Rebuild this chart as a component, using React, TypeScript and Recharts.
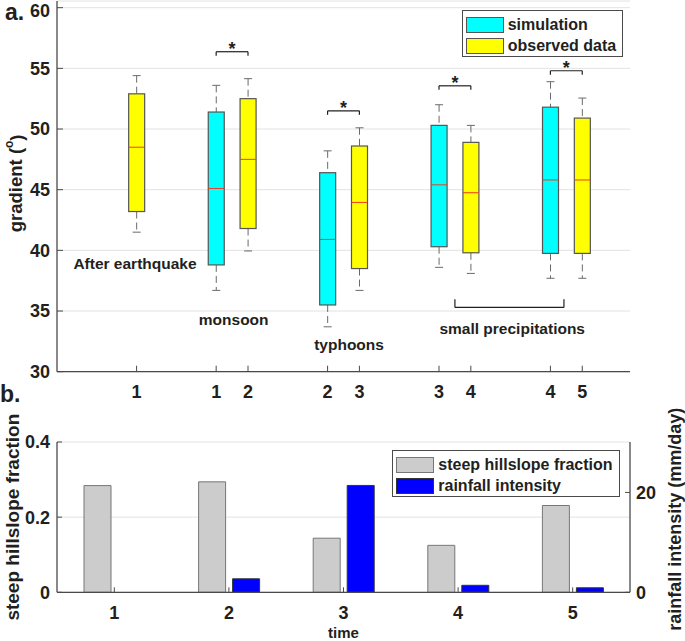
import React from 'react';
import {
  ComposedChart,
  Bar,
  XAxis,
  YAxis,
  CartesianGrid,
  ReferenceLine,
  ReferenceDot,
  Legend,
} from 'recharts';

const FONT = '"Liberation Sans", Arial, Helvetica, sans-serif';
const INK = '#231f20';
const AXIS = '#4a4a4a';
const GRID = '#e2e2e2';

// panel a: gradient boxplots (x = box position on the axis)
const positions = [1, 2, 2.4, 3.4, 3.8, 4.8, 5.2, 6.2, 6.6];
const positionLabels = ['1', '1', '2', '2', '3', '3', '4', '4', '5'];
const boxGroup = ['obs', 'sim', 'obs', 'sim', 'obs', 'sim', 'obs', 'sim', 'obs'];
const whiskerLow = [41.5, 36.7, 39.95, 33.7, 36.7, 38.6, 38.1, 37.7, 37.7];
const quartileLow = [43.2, 38.8, 41.8, 35.5, 38.5, 40.3, 39.8, 39.75, 39.75];
const medians = [48.5, 45.1, 47.5, 40.9, 43.95, 45.4, 44.75, 45.8, 45.8];
const quartileHigh = [52.9, 51.4, 52.5, 46.4, 48.6, 50.3, 48.9, 51.8, 50.9];
const whiskerHigh = [54.4, 53.6, 54.15, 48.2, 50.1, 52.0, 50.3, 53.9, 52.55];
const gradientTicks = [30, 35, 40, 45, 50, 55, 60];

// significance brackets
const sigLeft = [2, 3.4, 4.8, 6.2];
const sigRight = [2.4, 3.8, 5.2, 6.6];
const sigLevel = [56.37, 51.5, 53.56, 54.8];

// event labels
const eventNames = ['After earthquake', 'monsoon', 'typhoons', 'small precipitations'];
const eventX = [0.98, 2.22, 3.67, 5.72];
const eventY = [38.95, 34.29, 32.23, 33.59];

// panel b: hillslope fraction and rainfall
const timeLabels = ['1', '2', '3', '4', '5'];
const steepFraction = [0.284, 0.294, 0.144, 0.125, 0.231];
const rainIntensity = [0, 2.7, 21.4, 1.4, 0.9];

const groupColor: Record<string, string> = { sim: '#00ffff', obs: '#ffff00' };

const boxData = positions.map((x, i) => ({
  x,
  range: [whiskerLow[i], whiskerHigh[i]],
  q1: quartileLow[i],
  med: medians[i],
  q3: quartileHigh[i],
  group: boxGroup[i],
}));

const timeData = timeLabels.map((t, i) => ({
  t,
  frac: steepFraction[i],
  rain: rainIntensity[i],
}));

const tickStyle = { fill: INK, fontSize: 18, fontWeight: 700, fontFamily: FONT };

function BoxShape(props: any) {
  const { x, y, width, height, payload } = props;
  const [lo, hi] = payload.range;
  const top = Math.min(y, y + height);
  const h = Math.abs(height);
  const py = (v: number) => top + (h * (hi - v)) / (hi - lo);
  const cx = x + width / 2;
  const cap = width / 4;
  return (
    <g>
      <line x1={cx} x2={cx} y1={py(hi)} y2={py(payload.q3)} stroke="#6a6a6a" strokeDasharray="7 4" />
      <line x1={cx} x2={cx} y1={py(payload.q1)} y2={py(lo)} stroke="#6a6a6a" strokeDasharray="7 4" />
      <line x1={cx - cap} x2={cx + cap} y1={py(hi)} y2={py(hi)} stroke="#6a6a6a" />
      <line x1={cx - cap} x2={cx + cap} y1={py(lo)} y2={py(lo)} stroke="#6a6a6a" />
      <rect
        x={x}
        y={py(payload.q3)}
        width={width}
        height={py(payload.q1) - py(payload.q3)}
        fill={groupColor[payload.group]}
        stroke="#555"
        strokeWidth={1.2}
      />
      <line x1={x} x2={x + width} y1={py(payload.med)} y2={py(payload.med)} stroke="#f03c1e" strokeWidth={1} />
    </g>
  );
}

function VLabel({ viewBox, cx, dy, size, children }: any) {
  const px = viewBox.x + cx;
  const py = viewBox.y + viewBox.height / 2 + (dy || 0);
  return (
    <text
      x={px}
      y={py}
      transform={`rotate(-90, ${px}, ${py})`}
      textAnchor="middle"
      dominantBaseline="central"
      fill={INK}
      fontSize={size || 18}
      fontWeight={700}
      fontFamily={FONT}
    >
      {children}
    </text>
  );
}

function LegendBox({ items, width }: any) {
  return (
    <div
      style={{
        boxSizing: 'border-box',
        width,
        height: 47,
        border: `1.3px solid ${AXIS}`,
        background: '#fff',
        padding: '3px 0 0 3px',
        fontFamily: FONT,
      }}
    >
      {items.map((it: any) => (
        <div key={it.name} style={{ display: 'flex', alignItems: 'center', height: 21.5 }}>
          <span
            style={{
              display: 'inline-block',
              boxSizing: 'border-box',
              width: 38,
              height: 16,
              background: it.color,
              border: `1px solid ${it.edge}`,
            }}
          />
          <span style={{ marginLeft: 4, fontSize: 16, fontWeight: 700, color: INK, lineHeight: '16px' }}>
            {it.name}
          </span>
        </div>
      ))}
    </div>
  );
}

const panelStyle: React.CSSProperties = {
  position: 'absolute',
  fontFamily: FONT,
  fontWeight: 700,
  fontSize: 23,
  lineHeight: 1.12,
  color: INK,
};

export default function App() {
  return (
    <div style={{ position: 'absolute', left: 0, top: 0, width: 685, height: 641, background: '#fff' }}>
      <div style={{ position: 'absolute', left: 0, top: 400 }}>
        <ComposedChart
          width={685}
          height={241}
          data={timeData}
          barSize={27}
          barGap={7}
          margin={{ top: 42, right: 0, bottom: 0, left: 0 }}
        >
          <CartesianGrid vertical={false} stroke={GRID} yAxisId="frac" />
          <XAxis
            dataKey="t"
            height={48.7}
            tickSize={-5}
            tickMargin={19}
            tick={tickStyle}
            axisLine={{ stroke: AXIS, strokeWidth: 1.3 }}
            tickLine={{ stroke: AXIS }}
            label={{ value: 'time', position: 'insideBottom', offset: 3, fontSize: 15, fontWeight: 700, fill: INK, fontFamily: FONT }}
          />
          <XAxis
            xAxisId="top"
            dataKey="t"
            orientation="top"
            height={0}
            tick={false}
            tickSize={-5}
            axisLine={{ stroke: AXIS, strokeWidth: 1.3 }}
            tickLine={{ stroke: AXIS }}
          />
          <YAxis
            yAxisId="frac"
            domain={[0, 0.4]}
            ticks={[0, 0.2, 0.4]}
            allowDataOverflow
            width={57}
            tickSize={-5}
            tickMargin={12}
            tick={tickStyle}
            axisLine={{ stroke: AXIS, strokeWidth: 1.3 }}
            tickLine={{ stroke: AXIS }}
            label={(p: any) => (
              <VLabel viewBox={p.viewBox} cx={13} size={19}>
                steep hillslope fraction
              </VLabel>
            )}
          />
          <YAxis
            yAxisId="rain"
            orientation="right"
            domain={[0, 30.1]}
            ticks={[0, 20]}
            allowDataOverflow
            width={55}
            tickSize={-5}
            tickMargin={11}
            tick={tickStyle}
            axisLine={{ stroke: AXIS, strokeWidth: 1.3 }}
            tickLine={{ stroke: AXIS }}
            label={(p: any) => (
              <VLabel viewBox={p.viewBox} cx={45} dy={2} size={18}>
                rainfall intensity (mm/day)
              </VLabel>
            )}
          />
          <Bar yAxisId="frac" dataKey="frac" fill="#cccccc" stroke="#777" strokeWidth={1} isAnimationActive={false} />
          <Bar yAxisId="rain" dataKey="rain" fill="#0000ff" stroke="#333" strokeWidth={1} isAnimationActive={false} />
          <Legend
            layout="horizontal"
            verticalAlign="middle"
            align="center"
            wrapperStyle={{ left: 392.3, top: 50, width: 228, height: 47 }}
            content={() => (
              <LegendBox
                width={228}
                items={[
                  { name: 'steep hillslope fraction', color: '#cccccc', edge: '#777' },
                  { name: 'rainfall intensity', color: '#0000ff', edge: '#333' },
                ]}
              />
            )}
          />
        </ComposedChart>
      </div>

      <div style={{ position: 'absolute', left: 0, top: 0 }}>
        <ComposedChart width={685} height={412} data={boxData} margin={{ top: 1, right: 55, bottom: 0, left: 0 }}>
          <CartesianGrid vertical={false} stroke={GRID} />
          <XAxis
            dataKey="x"
            type="number"
            domain={[0, 7.2]}
            ticks={positions}
            interval={0}
            tickFormatter={(_v: number, i: number) => positionLabels[i]}
            height={40.3}
            tickSize={-6}
            tickMargin={20}
            tick={tickStyle}
            axisLine={{ stroke: AXIS, strokeWidth: 1.3 }}
            tickLine={{ stroke: AXIS }}
          />
          <XAxis
            xAxisId="top"
            dataKey="x"
            type="number"
            orientation="top"
            domain={[0, 7.2]}
            ticks={positions}
            interval={0}
            height={0}
            tick={false}
            tickSize={-6}
            axisLine={{ stroke: AXIS, strokeWidth: 1.3 }}
            tickLine={{ stroke: AXIS }}
          />
          <YAxis
            domain={[30, 60.55]}
            ticks={gradientTicks}
            allowDataOverflow
            width={57}
            tickSize={-6}
            tickMargin={13}
            tick={tickStyle}
            axisLine={{ stroke: AXIS, strokeWidth: 1.3 }}
            tickLine={{ stroke: AXIS }}
            label={(p: any) => (
              <VLabel viewBox={p.viewBox} cx={16} dy={-3} size={18.5}>
                gradient (
                <tspan dy={-7} fontSize={12}>
                  o
                </tspan>
                <tspan dy={7}>)</tspan>
              </VLabel>
            )}
          />
          <YAxis
            yAxisId="right"
            orientation="right"
            domain={[30, 60.55]}
            ticks={gradientTicks}
            allowDataOverflow
            width={0}
            tick={false}
            tickSize={-6}
            axisLine={{ stroke: AXIS, strokeWidth: 1.3 }}
            tickLine={{ stroke: AXIS }}
          />
          <Bar dataKey="range" barSize={16} shape={<BoxShape />} isAnimationActive={false} />
          {sigLeft.map((l, i) => (
            <ReferenceLine
              key={`s${i}`}
              segment={[
                { x: l, y: sigLevel[i] },
                { x: sigRight[i], y: sigLevel[i] },
              ]}
              stroke={INK}
              strokeWidth={1.2}
            />
          ))}
          {sigLeft.map((l, i) => (
            <ReferenceLine
              key={`sl${i}`}
              segment={[
                { x: l, y: sigLevel[i] },
                { x: l, y: sigLevel[i] - 0.33 },
              ]}
              stroke={INK}
              strokeWidth={1.2}
            />
          ))}
          {sigRight.map((r, i) => (
            <ReferenceLine
              key={`sr${i}`}
              segment={[
                { x: r, y: sigLevel[i] },
                { x: r, y: sigLevel[i] - 0.33 },
              ]}
              stroke={INK}
              strokeWidth={1.2}
            />
          ))}
          {sigLeft.map((l, i) => (
            <ReferenceDot
              key={`st${i}`}
              x={(l + sigRight[i]) / 2}
              y={sigLevel[i]}
              r={0}
              fill="none"
              stroke="none"
              label={{ value: '*', position: 'top', offset: -3, fontSize: 18, fontWeight: 700, fill: INK, fontFamily: FONT }}
            />
          ))}
          <ReferenceLine segment={[{ x: 5.0, y: 35.3 }, { x: 6.37, y: 35.3 }]} stroke={INK} strokeWidth={1.2} />
          <ReferenceLine segment={[{ x: 5.0, y: 35.3 }, { x: 5.0, y: 35.98 }]} stroke={INK} strokeWidth={1.2} />
          <ReferenceLine segment={[{ x: 6.37, y: 35.3 }, { x: 6.37, y: 35.98 }]} stroke={INK} strokeWidth={1.2} />
          {eventNames.map((name, i) => (
            <ReferenceDot
              key={name}
              x={eventX[i]}
              y={eventY[i]}
              r={0}
              fill="none"
              stroke="none"
              label={{ value: name, position: 'center', fontSize: 15.5, fontWeight: 700, fill: INK, fontFamily: FONT }}
            />
          ))}
          <Legend
            layout="horizontal"
            verticalAlign="middle"
            align="center"
            wrapperStyle={{ left: 461.7, top: 10, width: 161, height: 47 }}
            content={() => (
              <LegendBox
                width={161}
                items={[
                  { name: 'simulation', color: groupColor.sim, edge: '#555' },
                  { name: 'observed data', color: groupColor.obs, edge: '#555' },
                ]}
              />
            )}
          />
        </ComposedChart>
      </div>

      <div style={{ ...panelStyle, left: 5, top: 0 }}>a.</div>
      <div style={{ ...panelStyle, left: 0, top: 382 }}>b.</div>
    </div>
  );
}
